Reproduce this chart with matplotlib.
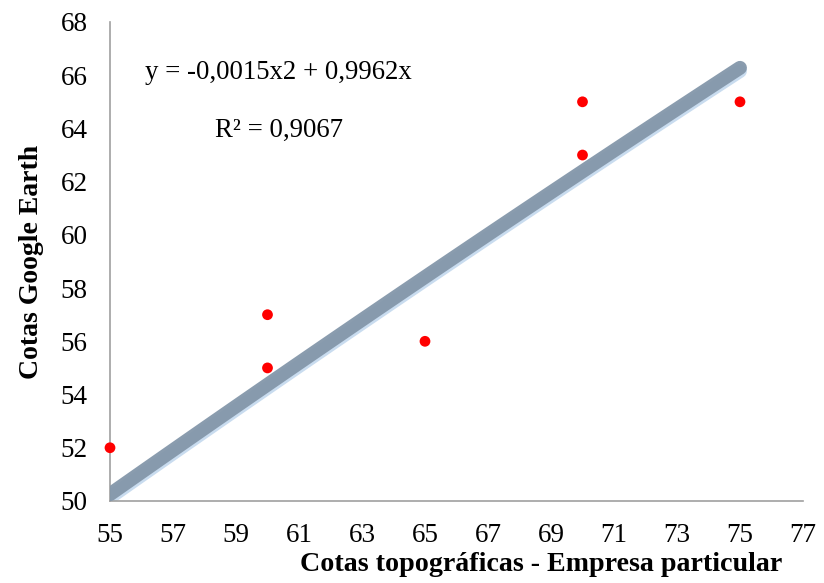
import numpy as np
import matplotlib
matplotlib.use("Agg")
import matplotlib.pyplot as plt

plt.rcParams['font.family'] = ['Liberation Serif', 'DejaVu Serif']

x_vals = [55, 60, 60, 65, 70, 70, 75]
y_vals = [52, 57, 55, 56, 65, 63, 65]
coef_a = -0.0015
coef_b = 0.9962
r2 = 0.9067
x_ticks = [55, 57, 59, 61, 63, 65, 67, 69, 71, 73, 75, 77]
y_ticks = [50, 52, 54, 56, 58, 60, 62, 64, 66, 68]

fig = plt.figure(figsize=(8.24, 5.83), dpi=100)
ax = fig.add_axes([0.1335, 0.1407, 0.841, 0.8216])

xt = np.linspace(55, 75, 100)
yt = coef_a * xt**2 + coef_b * xt
ax.plot(xt, yt - 0.12, color='#c9dcef', lw=10, solid_capstyle='round', zorder=2)
ax.plot(xt, yt, color='#8497aa', lw=10, solid_capstyle='round', zorder=3, alpha=0.95)
ax.scatter(x_vals, y_vals, color='#ff0000', s=60, zorder=4, edgecolors='none', clip_on=False)

ax.set_xlim(55, 77)
ax.set_ylim(50, 68)
ax.set_xticks(x_ticks)
ax.set_yticks(y_ticks)
ax.tick_params(length=0, labelsize=19.5)
ax.tick_params(axis='x', pad=16)
ax.tick_params(axis='y', pad=16)
for s in ['top', 'right']:
    ax.spines[s].set_visible(False)
for s in ['left', 'bottom']:
    ax.spines[s].set_color('#a0a0a0')
    ax.spines[s].set_linewidth(1.2)

ax.set_xlabel('Cotas topográficas - Empresa particular', fontsize=20.2, fontweight='bold', labelpad=3, x=0.622)
ax.set_ylabel('Cotas Google Earth', fontsize=20, fontweight='bold', labelpad=12)

eq = f"y = {coef_a:.4f}x2 + {coef_b:.4f}x".replace('.', ',')
ax.text(0.05, 0.895, eq, transform=ax.transAxes, fontsize=19.3, va='center', ha='left')
ax.text(0.152, 0.773, f"R² = {r2:.4f}".replace('.', ','), transform=ax.transAxes, fontsize=19.3, va='center', ha='left')

fig.savefig('out.png', dpi=100)
